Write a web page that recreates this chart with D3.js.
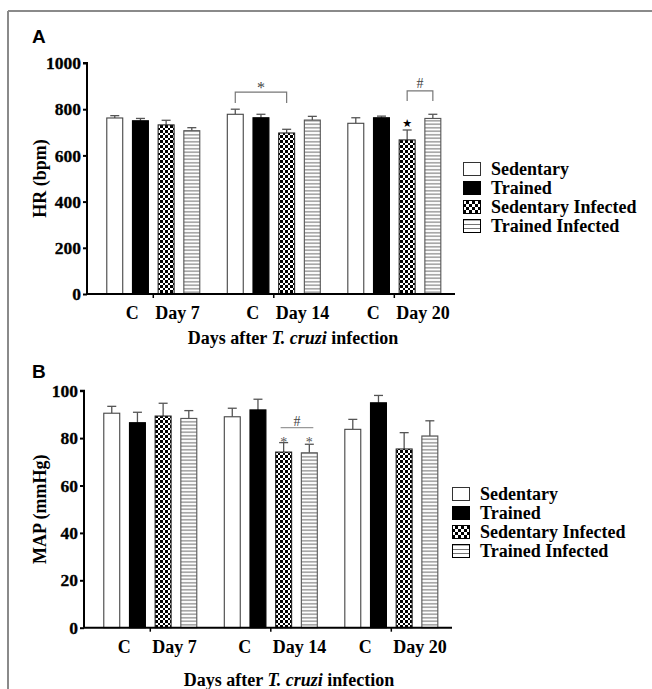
<!DOCTYPE html>
<html>
<head>
<meta charset="utf-8">
<script src="https://cdn.jsdelivr.net/npm/d3@7"></script>
<style>
html,body{margin:0;padding:0;background:#fff;}
svg{display:block;}
</style>
</head>
<body>
<svg id="chart" width="652" height="689"></svg>
<script>
// ---------- data ----------
const groups = ["Day 7", "Day 14", "Day 20"];
const seriesNames = ["Sedentary", "Trained", "Sedentary Infected", "Trained Infected"];

// Panel A: heart rate (bpm), mean and SEM per group
const hrSedentary = [762, 778, 739];
const hrTrained = [750, 763, 763];
const hrSedInfected = [732, 697, 667];
const hrTrainedInfected = [707, 753, 760];
const hrSedentaryErr = [10, 22, 24];
const hrTrainedErr = [10, 15, 7];
const hrSedInfectedErr = [20, 16, 43];
const hrTrainedInfectedErr = [13, 16, 18];
const hrTicks = [0, 200, 400, 600, 800, 1000];

// Panel B: mean arterial pressure (mmHg)
const mapSedentary = [90.5, 89, 83.7];
const mapTrained = [86.5, 91.9, 94.9];
const mapSedInfected = [89.3, 74.1, 75.4];
const mapTrainedInfected = [88.3, 73.8, 80.9];
const mapSedentaryErr = [2.9, 3.6, 4.2];
const mapTrainedErr = [4.4, 4.5, 3.1];
const mapSedInfectedErr = [5.4, 4.0, 6.9];
const mapTrainedInfectedErr = [3.3, 3.6, 6.4];
const mapTicks = [0, 20, 40, 60, 80, 100];

// ---------- setup ----------
const svg = d3.select("#chart");
const serif = "'Liberation Serif','Times New Roman',serif";
const sans = "'Liberation Sans',Arial,sans-serif";
const defs = svg.append("defs");

function checker(id, c) {
  const p = defs.append("pattern").attr("id", id).attr("patternUnits", "userSpaceOnUse")
    .attr("width", 2 * c).attr("height", 2 * c);
  p.append("rect").attr("width", 2 * c).attr("height", 2 * c).attr("fill", "#fff");
  p.append("rect").attr("width", c).attr("height", c).attr("fill", "#000").attr("shape-rendering", "crispEdges");
  p.append("rect").attr("x", c).attr("y", c).attr("width", c).attr("height", c).attr("fill", "#000").attr("shape-rendering", "crispEdges");
}
checker("chk", 2.5);
checker("chkL", 3);
function stripes(id, h) {
  const p = defs.append("pattern").attr("id", id).attr("patternUnits", "userSpaceOnUse")
    .attr("width", 10).attr("height", h);
  p.append("rect").attr("width", 10).attr("height", h).attr("fill", "#fff");
  p.append("line").attr("x1", 0).attr("x2", 10).attr("y1", h / 2).attr("y2", h / 2)
    .attr("stroke", "#555").attr("stroke-width", 0.9);
}
stripes("str", 3.5);
stripes("strL", 4.3);

const fills = ["#fff", "#000", "url(#chk)", "url(#str)"];
const legFills = ["#fff", "#000", "url(#chkL)", "url(#strL)"];
const strokes = ["#444", "#000", "#222", "#555"];

// frame
svg.append("line").attr("x1", 8).attr("x2", 652).attr("y1", 11).attr("y2", 11)
  .attr("stroke", "#8a8a8a").attr("stroke-width", 2);
svg.append("line").attr("x1", 8).attr("x2", 8).attr("y1", 11).attr("y2", 689)
  .attr("stroke", "#8a8a8a").attr("stroke-width", 2);

function panel(cfg) {
  const y = d3.scaleLinear().domain([0, cfg.max]).range([cfg.y0, cfg.y1]);
  const x = d3.scaleBand().domain(groups).range([cfg.x0, cfg.x0 + 373.6])
    .paddingInner(0.22).paddingOuter(0.16);
  const xs = d3.scaleBand().domain(seriesNames).range([0, x.bandwidth()])
    .paddingInner(0.34).paddingOuter(0);
  const g = svg.append("g");

  const rows = [];
  seriesNames.forEach((s, si) => {
    groups.forEach((gr, gi) => {
      rows.push({ s, si, gr, v: cfg.means[si][gi], e: cfg.errs[si][gi] });
    });
  });

  // error bars
  const eg = g.append("g").attr("stroke", "#555").attr("stroke-width", 1.3).attr("fill", "none");
  rows.forEach(d => {
    const cx = x(d.gr) + xs(d.s) + xs.bandwidth() / 2;
    eg.append("line").attr("x1", cx).attr("x2", cx).attr("y1", y(d.v)).attr("y2", y(d.v + d.e));
    eg.append("line").attr("x1", cx - 4.5).attr("x2", cx + 4.5).attr("y1", y(d.v + d.e)).attr("y2", y(d.v + d.e));
  });

  // bars
  g.append("g").selectAll("rect").data(rows).join("rect")
    .attr("x", d => x(d.gr) + xs(d.s) + 0.5)
    .attr("y", d => y(d.v))
    .attr("width", xs.bandwidth() - 1)
    .attr("height", d => y(0) - y(d.v))
    .attr("fill", d => fills[d.si])
    .attr("stroke", d => strokes[d.si])
    .attr("stroke-width", 1.1);

  // y axis
  const ya = g.append("g").attr("transform", `translate(${cfg.x0},0)`)
    .call(d3.axisLeft(y).tickValues(cfg.ticks).tickSize(4).tickPadding(2).tickFormat(d3.format("d")));
  ya.select(".domain").attr("stroke", "#000").attr("stroke-width", 2).attr("d", `M-4,${cfg.y1}H0V${cfg.y0}`);
  ya.selectAll(".tick line").attr("stroke", "#000").attr("stroke-width", 2);
  ya.selectAll("text").attr("font-family", serif).attr("font-weight", "bold").attr("font-size", 17.5)
    .attr("fill", "#000").attr("stroke", "#000").attr("stroke-width", 0.3);

  // x axis
  const xa = g.append("g").attr("transform", `translate(0,${cfg.y0})`)
    .call(d3.axisBottom(x).tickSize(4).tickFormat(""));
  xa.select(".domain").attr("stroke", "#000").attr("stroke-width", 2).attr("d", `M${cfg.x0},0H${cfg.xEnd}`);
  xa.selectAll(".tick line").attr("stroke", "#000").attr("stroke-width", 1.5);
  groups.forEach(gr => {
    const t = x(gr) + x.bandwidth() / 2;
    g.append("text").attr("x", t + cfg.cOff).attr("y", cfg.y0 + 25).attr("text-anchor", "middle")
      .attr("font-family", serif).attr("font-weight", "bold").attr("font-size", 18).text("C");
    g.append("text").attr("x", t + 2).attr("y", cfg.y0 + 25).attr("text-anchor", "start")
      .attr("font-family", serif).attr("font-weight", "bold").attr("font-size", 18).text(gr);
  });

  // axis titles
  const xt = g.append("text").attr("x", cfg.titleX).attr("y", cfg.titleY).attr("text-anchor", "middle")
    .attr("font-family", serif).attr("font-weight", "bold").attr("font-size", 18);
  xt.append("tspan").text("Days after ");
  xt.append("tspan").attr("font-style", "italic").text("T. cruzi");
  xt.append("tspan").text(" infection");
  g.append("text").attr("transform", `translate(46,${(cfg.y0 + cfg.y1) / 2}) rotate(-90)`)
    .attr("text-anchor", "middle").attr("font-family", serif).attr("font-weight", "bold")
    .attr("font-size", 18).text(cfg.yTitle);

  // panel letter
  g.append("text").attr("x", 32).attr("y", cfg.letterY).attr("font-family", sans)
    .attr("font-weight", "bold").attr("font-size", 19).text(cfg.letter);

  // legend
  const lg = g.append("g").attr("transform", `translate(${cfg.legX},${cfg.legY})`);
  seriesNames.forEach((s, i) => {
    lg.append("rect").attr("x", 0.5).attr("y", i * 19 + 0.5).attr("width", 17).attr("height", 13)
      .attr("fill", legFills[i]).attr("stroke", i === 0 ? "#333" : "#000").attr("stroke-width", 1);
    lg.append("text").attr("x", 28).attr("y", i * 19 + 13).attr("font-family", serif)
      .attr("font-weight", "bold").attr("font-size", 18).text(s);
  });

  const cx = (gi, si) => x(groups[gi]) + xs(seriesNames[si]) + xs.bandwidth() / 2;
  return { g, y, x, xs, cx };
}

// ---------- Panel A ----------
const A = panel({
  letter: "A", letterY: 43,
  max: 1000, y0: 294, y1: 63, x0: 87, xEnd: 455, ticks: hrTicks,
  means: [hrSedentary, hrTrained, hrSedInfected, hrTrainedInfected],
  errs: [hrSedentaryErr, hrTrainedErr, hrSedInfectedErr, hrTrainedInfectedErr],
  cOff: -21, titleX: 293, titleY: 344, yTitle: "HR (bpm)",
  legX: 463, legY: 162
});
(function () {
  const x1 = A.cx(1, 0), x2 = A.cx(1, 2), top = A.y(874), bot = A.y(827);
  A.g.append("path").attr("d", `M${x1},${bot}V${top}H${x2}V${bot}`).attr("fill", "none")
    .attr("stroke", "#777").attr("stroke-width", 1.2);
  A.g.append("text").attr("x", (x1 + x2) / 2).attr("y", top + 1).attr("text-anchor", "middle")
    .attr("font-family", serif).attr("font-size", 16).attr("fill", "#444").text("*");
  const h1 = A.cx(2, 2), h2 = A.cx(2, 3), htop = A.y(879), hbot = A.y(835);
  A.g.append("path").attr("d", `M${h1},${hbot}V${htop}H${h2}V${hbot}`).attr("fill", "none")
    .attr("stroke", "#777").attr("stroke-width", 1.2);
  A.g.append("text").attr("x", (h1 + h2) / 2).attr("y", htop - 3).attr("text-anchor", "middle")
    .attr("font-family", serif).attr("font-size", 14).attr("fill", "#444").text("#");
  const sx = A.cx(2, 2);
  A.g.append("text").attr("x", sx).attr("y", A.y(hrSedInfected[2] + hrSedInfectedErr[2]) - 3)
    .attr("text-anchor", "middle").attr("font-family", "'DejaVu Sans',sans-serif").attr("font-size", 11)
    .attr("fill", "#000").text("★");
})();

// ---------- Panel B ----------
const B = panel({
  letter: "B", letterY: 378,
  max: 100, y0: 627.7, y1: 390.7, x0: 84, xEnd: 452, ticks: mapTicks,
  means: [mapSedentary, mapTrained, mapSedInfected, mapTrainedInfected],
  errs: [mapSedentaryErr, mapTrainedErr, mapSedInfectedErr, mapTrainedInfectedErr],
  cOff: -26, titleX: 289, titleY: 686, yTitle: "MAP (mmHg)",
  legX: 452, legY: 487
});
(function () {
  const x1 = B.cx(1, 2) - 3, x2 = B.cx(1, 3) + 4, ly = B.y(84.4);
  B.g.append("line").attr("x1", x1).attr("x2", x2).attr("y1", ly).attr("y2", ly)
    .attr("stroke", "#999").attr("stroke-width", 1.3);
  B.g.append("text").attr("x", (x1 + x2) / 2).attr("y", ly - 2).attr("text-anchor", "middle")
    .attr("font-family", serif).attr("font-size", 14).attr("fill", "#444").text("#");
  [2, 3].forEach(si => {
    B.g.append("text").attr("x", B.cx(1, si)).attr("y", B.y(78.5) + 5).attr("text-anchor", "middle")
      .attr("font-family", serif).attr("font-size", 14).attr("fill", "#555").text("*");
  });
})();
</script>
</body>
</html>
